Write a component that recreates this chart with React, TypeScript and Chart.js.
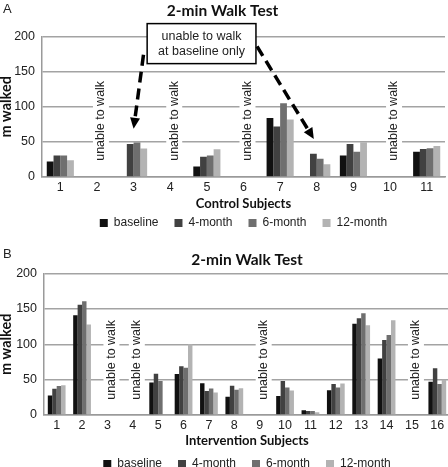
import React, { useEffect, useRef } from "react";
import { Chart, registerables } from "chart.js";
Chart.register(...registerables);

// ---------- data ----------
const seriesLabels = ["baseline", "4-month", "6-month", "12-month"];
const seriesColors = ["#111111", "#414141", "#6f6f6f", "#b3b3b3"];

const controlSubjects = ["1", "2", "3", "4", "5", "6", "7", "8", "9", "10", "11"];
const controlBaseline = [22, null, null, null, 15, null, 84, null, 30.5, null, 36];
const control4Month = [30.5, null, 47, null, 29, null, 72, 33, 47, null, 40];
const control6Month = [30.5, null, 49, null, 30.5, null, 105, 26, 36, null, 41];
const control12Month = [24, null, 40.5, null, 39.5, null, 82, 18, 49.5, null, 44];
const controlUnable = ["2", "4", "6", "10"];

const interventionSubjects = ["1", "2", "3", "4", "5", "6", "7", "8", "9", "10", "11", "12", "13", "14", "15", "16"];
const interventionBaseline = [27.6, 141, null, null, 46, 58, 45, 25.7, null, 27, 6.7, 35, 129, 80, null, 47];
const intervention4Month = [37, 156, null, null, 58.5, 69, 34, 41.4, null, 48, 5.7, 44, 137, 106, null, 66];
const intervention6Month = [41, 161, null, null, 48, 67, 37.6, 35.7, null, 39, 5.7, 39, 144, 113, null, 44];
const intervention12Month = [42, 128, null, null, null, 100, 32, 38, null, 34.5, 3.8, 44.5, 127, 134, null, 50];
const interventionUnable = ["3", "4", "9", "15"];

const chartTitle = "2-min Walk Test";
const yAxisTitle = "m walked";
const unableText = "unable to walk";
const calloutLines = ["unable to walk", "at baseline only"];
const yMin = 0;
const yMax = 200;
const yStep = 50;

const SANS = "'Liberation Sans', Arial, sans-serif";
const BOLD = "Lato, 'Liberation Sans', sans-serif";

function drawArrow(ctx: CanvasRenderingContext2D, x1: number, y1: number, x2: number, y2: number) {
  const ang = Math.atan2(y2 - y1, x2 - x1);
  const head = 11;
  const hw = 5;
  const ex = x2 - Math.cos(ang) * head;
  const ey = y2 - Math.sin(ang) * head;
  ctx.save();
  ctx.strokeStyle = "#000";
  ctx.lineWidth = 3.5;
  ctx.setLineDash([11, 6]);
  ctx.beginPath();
  ctx.moveTo(x1, y1);
  ctx.lineTo(ex, ey);
  ctx.stroke();
  ctx.setLineDash([]);
  ctx.fillStyle = "#000";
  ctx.beginPath();
  ctx.moveTo(x2, y2);
  ctx.lineTo(ex + Math.sin(ang) * hw, ey - Math.cos(ang) * hw);
  ctx.lineTo(ex - Math.sin(ang) * hw, ey + Math.cos(ang) * hw);
  ctx.closePath();
  ctx.fill();
  ctx.restore();
}

type PanelProps = {
  top: number;
  width: number;
  height: number;
  letter: string;
  letterY: number;
  categories: string[];
  series: (number | null)[][];
  unable: string[];
  unableValue: number;
  unableDx: number;
  xTitle: string;
  yWidth: number;
  xHeight: number;
  xTitlePadBottom: number;
  titlePad: { top: number; bottom: number };
  titleFull: boolean;
  padRight: number;
  catPct: number;
  callout: boolean;
};

function BarPanel(p: PanelProps) {
  const ref = useRef<HTMLCanvasElement | null>(null);
  useEffect(() => {
    const overlay = {
      id: "overlay" + p.letter,
      afterDraw(chart: any) {
        const ctx: CanvasRenderingContext2D = chart.ctx;
        const xs = chart.scales.x;
        const ys = chart.scales.y;
        ctx.save();
        // panel letter
        ctx.fillStyle = "#222";
        ctx.font = `13px ${SANS}`;
        ctx.textAlign = "left";
        ctx.textBaseline = "middle";
        ctx.fillText(p.letter, 3, p.letterY);
        // unable to walk labels
        ctx.font = `12.5px ${SANS}`;
        const tw = ctx.measureText(unableText).width;
        p.unable.forEach((cat) => {
          const idx = p.categories.indexOf(cat);
          const x = xs.getPixelForValue(idx) + p.unableDx;
          const y = ys.getPixelForValue(p.unableValue);
          ctx.save();
          ctx.translate(x, y);
          ctx.rotate(-Math.PI / 2);
          ctx.fillStyle = "#fff";
          ctx.fillRect(-tw / 2 - 4, -8, tw + 8, 16);
          ctx.fillStyle = "#222";
          ctx.textAlign = "center";
          ctx.textBaseline = "middle";
          ctx.fillText(unableText, 0, 0);
          ctx.restore();
        });
        if (p.callout) {
          const bx1 = xs.getPixelForValue(2.37);
          const bx2 = xs.getPixelForValue(5.34);
          const by1 = ys.getPixelForValue(218.5);
          const by2 = ys.getPixelForValue(161.5);
          ctx.fillStyle = "#fff";
          ctx.fillRect(bx1, by1, bx2 - bx1, by2 - by1);
          ctx.strokeStyle = "#000";
          ctx.lineWidth = 1.5;
          ctx.strokeRect(bx1, by1, bx2 - bx1, by2 - by1);
          ctx.fillStyle = "#222";
          ctx.textAlign = "center";
          ctx.textBaseline = "middle";
          const cx = (bx1 + bx2) / 2;
          ctx.fillText(calloutLines[0], cx, ys.getPixelForValue(200));
          ctx.fillText(calloutLines[1], cx, ys.getPixelForValue(178));
          drawArrow(ctx, xs.getPixelForValue(2.27), ys.getPixelForValue(174), xs.getPixelForValue(2.0), ys.getPixelForValue(68.6));
          drawArrow(ctx, xs.getPixelForValue(5.37), ys.getPixelForValue(186), xs.getPixelForValue(6.92), ys.getPixelForValue(54));
        }
        ctx.restore();
      },
    };

    const chart = new Chart(ref.current as HTMLCanvasElement, {
      type: "bar",
      data: {
        labels: p.categories,
        datasets: p.series.map((vals, i) => ({
          label: seriesLabels[i],
          data: vals,
          backgroundColor: seriesColors[i],
          borderWidth: 0,
          categoryPercentage: p.catPct,
          barPercentage: 1,
        })),
      },
      options: {
        responsive: false,
        animation: false,
        devicePixelRatio: 1,
        layout: { padding: { left: 0, right: p.padRight, top: 0, bottom: 0 } },
        plugins: {
          tooltip: { enabled: false },
          title: {
            display: true,
            text: chartTitle,
            color: "#111",
            fullSize: p.titleFull,
            font: { family: BOLD, size: 15.5, weight: "bold", lineHeight: 1.2 },
            padding: p.titlePad,
          },
          legend: {
            position: "bottom",
            fullSize: false,
            labels: {
              color: "#222",
              boxWidth: 8,
              boxHeight: 8,
              padding: 16,
              font: { family: SANS, size: 12 },
            },
          },
        },
        scales: {
          x: {
            grid: { display: false, drawTicks: false },
            border: { display: true, color: "#9a9a9a", width: 1.5 },
            ticks: { color: "#222", padding: 3, font: { family: SANS, size: 12.5 }, maxRotation: 0, autoSkip: false },
            title: {
              display: true,
              text: p.xTitle,
              color: "#111",
              font: { family: BOLD, size: 13, weight: "bold", lineHeight: 1.2 },
              padding: { top: 0, bottom: p.xTitlePadBottom },
            },
            afterFit: (s: any) => {
              s.height = p.xHeight;
            },
          },
          y: {
            min: yMin,
            max: yMax,
            ticks: { stepSize: yStep, color: "#222", padding: 7, font: { family: SANS, size: 12.5 } },
            grid: { color: "#a3a3a3", lineWidth: 1.5, drawTicks: false },
            border: { display: true, color: "#9a9a9a", width: 1.5 },
            title: {
              display: true,
              text: yAxisTitle,
              color: "#111",
              font: { family: BOLD, size: 14.5, weight: "bold", lineHeight: 1 },
              padding: { top: -1, bottom: 0 },
            },
            afterFit: (s: any) => {
              s.width = p.yWidth;
            },
          },
        },
      },
      plugins: [overlay],
    } as any);
    return () => chart.destroy();
  }, []);
  return (
    <canvas
      ref={ref}
      width={p.width}
      height={p.height}
      style={{ position: "absolute", left: 0, top: p.top, width: p.width, height: p.height }}
    />
  );
}

export default function App() {
  return (
    <div
      style={{
        position: "absolute",
        left: 0,
        top: 0,
        width: 448,
        height: 467,
        overflow: "hidden",
        background: "#fff",
      }}
    >
      <BarPanel
        top={0}
        width={448}
        height={239}
        letter="A"
        letterY={9}
        categories={controlSubjects}
        series={[controlBaseline, control4Month, control6Month, control12Month]}
        unable={controlUnable}
        unableValue={80}
        unableDx={4}
        xTitle="Control Subjects"
        yWidth={42}
        xHeight={24}
        xTitlePadBottom={-10.8}
        titlePad={{ top: 2, bottom: 16 }}
        titleFull={true}
        padRight={3}
        catPct={0.74}
        callout={true}
      />
      <BarPanel
        top={232}
        width={452}
        height={248}
        letter="B"
        letterY={22}
        categories={interventionSubjects}
        series={[interventionBaseline, intervention4Month, intervention6Month, intervention12Month]}
        unable={interventionUnable}
        unableValue={78}
        unableDx={4}
        xTitle="Intervention Subjects"
        yWidth={44}
        xHeight={27}
        xTitlePadBottom={-6.8}
        titlePad={{ top: 19, bottom: 4 }}
        titleFull={false}
        padRight={2}
        catPct={0.7}
        callout={false}
      />
    </div>
  );
}
